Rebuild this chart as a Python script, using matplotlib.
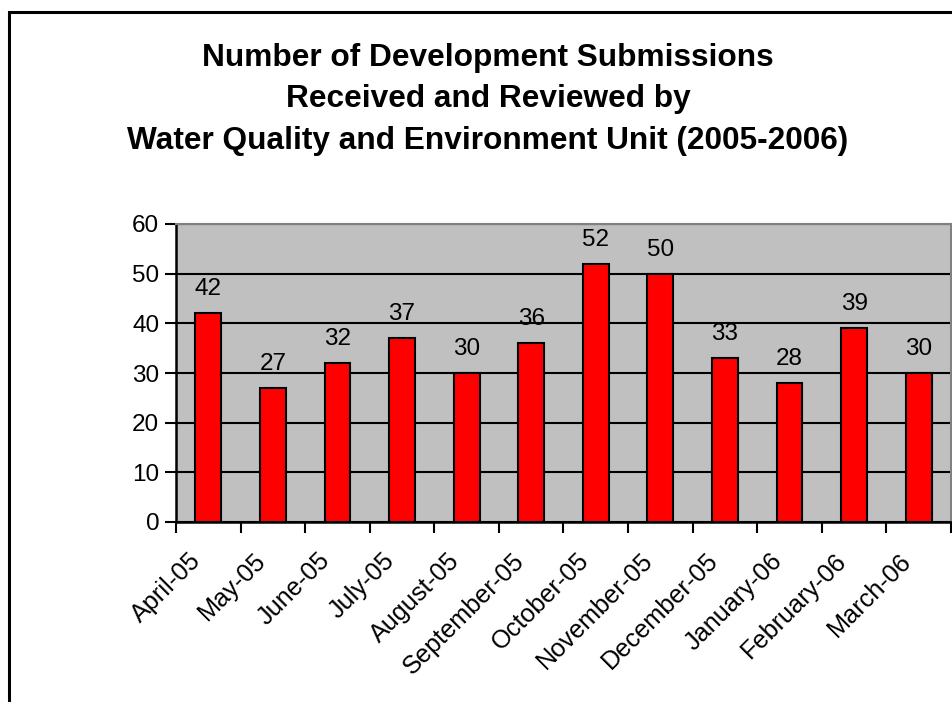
import numpy as np
import matplotlib
matplotlib.use("Agg")
import matplotlib.pyplot as plt
from matplotlib.patches import Rectangle
from matplotlib.transforms import ScaledTranslation

months = ["April-05", "May-05", "June-05", "July-05", "August-05", "September-05",
          "October-05", "November-05", "December-05", "January-06", "February-06", "March-06"]
submissions = [42, 27, 32, 37, 30, 36, 52, 50, 33, 28, 39, 30]
title_lines = ["Number of Development Submissions",
               "Received and Reviewed by",
               "Water Quality and Environment Unit (2005-2006)"]

plt.rcParams['font.family'] = ['Liberation Sans', 'DejaVu Sans']

W, H = 953, 702
fig = plt.figure(figsize=(W / 100, H / 100), dpi=100)

# outer chart border
fig.patches.append(Rectangle((9.5 / W, -0.05), 1.2, 1 - 11.5 / H + 0.05,
                             transform=fig.transFigure, fill=False,
                             edgecolor='black', linewidth=2.2))

# title, one line at a time
for y_px, line in zip([66, 107, 148.5], title_lines):
    fig.text(488 / W, 1 - y_px / H, line, ha='center', va='baseline',
             fontsize=22.8, fontweight='bold')

ax = fig.add_axes([176 / W, 1 - 522 / H, (951 - 176) / W, (522 - 224) / H])
ax.set_facecolor('#c0c0c0')

x = np.arange(len(months))
ax.bar(x, submissions, width=0.4, color='#ff0000', edgecolor='black', linewidth=1.5, zorder=3)

for xi, v in zip(x, submissions):
    ax.annotate(str(v), (xi, v), xytext=(0, 13), textcoords='offset points',
                ha='center', va='baseline', fontsize=17.5)

ax.set_xlim(-0.5, len(months) - 0.5)
ax.set_ylim(0, 60)
ax.set_yticks(range(0, 61, 10))
ax.yaxis.grid(True, color='black', linewidth=1.5, zorder=0)
ax.set_axisbelow(True)

# ticks between categories, labels at the centres
ax.set_xticks(np.arange(-0.5, len(months), 1))
ax.set_xticklabels([])
ax.set_xticks(x, minor=True)
ax.set_xticklabels(months, minor=True, rotation=45, ha='right', va='center',
                   rotation_mode='anchor', fontsize=18.2)
ax.tick_params(axis='x', which='minor', length=0, pad=0)
ax.tick_params(axis='x', which='major', direction='out', length=8, width=1.5)
ax.tick_params(axis='y', direction='out', length=8, width=1.5, labelsize=17.5, pad=4)
shift = ScaledTranslation(-0.11, -0.35, fig.dpi_scale_trans)
for lbl in ax.get_xticklabels(minor=True):
    lbl.set_transform(lbl.get_transform() + shift)

for side in ['left', 'bottom']:
    ax.spines[side].set_color('black')
    ax.spines[side].set_linewidth(1.8)
for side in ['top', 'right']:
    ax.spines[side].set_color('#808080')
    ax.spines[side].set_linewidth(1.5)

fig.savefig("out.png", dpi=100)
